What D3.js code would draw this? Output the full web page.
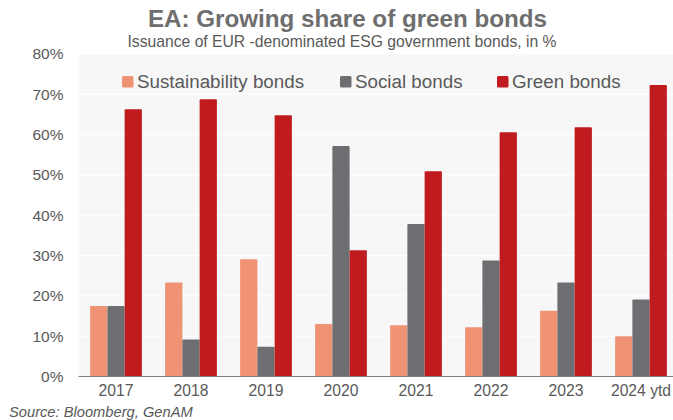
<!DOCTYPE html>
<html><head><meta charset="utf-8">
<script src="https://cdn.jsdelivr.net/npm/d3@7"></script>
<style>body{margin:0;background:#fff;}svg{display:block;font-family:"Liberation Sans",Arial,sans-serif;}</style>
</head><body><svg id="c" width="673" height="420"></svg>
<script>
const categories = ["2017","2018","2019","2020","2021","2022","2023","2024 ytd"];
const seriesNames = ["Sustainability bonds","Social bonds","Green bonds"];
const sustainability = [17.5,23.3,29.1,13.0,12.7,12.2,16.3,10.0];
const social = [17.5,9.2,7.4,57.2,37.8,28.8,23.3,19.1];
const green = [66.3,68.8,64.8,31.3,50.9,60.6,61.8,72.3];
const yTicks = [0,10,20,30,40,50,60,70,80];
const colors = ["#f09274","#6d6e71","#c01c1f"];

(function(){
const series = [sustainability, social, green];
const svg = d3.select("#c");
const pLeft = 78.5, pRight = 678.5, pTop = 54, pBottom = 376.5;
const textColor = "#595959";

svg.append("rect").attr("x", pLeft).attr("y", pTop).attr("width", 673-pLeft).attr("height", pBottom-pTop).attr("fill", "#f7f7f7");

const x = d3.scaleBand().domain(categories).range([pLeft, pRight]).paddingInner(0.31).paddingOuter(0.155);
const xs = d3.scaleBand().domain(d3.range(3)).range([0, x.bandwidth()]);
const y = d3.scaleLinear().domain([0, 80]).range([pBottom, pTop]);

svg.append("g").selectAll("line").data(yTicks.slice(1)).join("line")
  .attr("x1", pLeft).attr("x2", 673).attr("y1", d=>y(d)).attr("y2", d=>y(d))
  .attr("stroke", "#ffffff").attr("stroke-width", 1.2);

const yAxis = svg.append("g").attr("transform", `translate(${pLeft},0)`)
  .call(d3.axisLeft(y).tickValues(yTicks).tickFormat(d=>d+"%").tickSize(0).tickPadding(15));
yAxis.select(".domain").remove();
yAxis.selectAll("text").attr("fill", textColor).style("font-size", "15.5px");

const groups = svg.append("g").selectAll("g").data(categories).join("g")
  .attr("transform", d=>`translate(${x(d)},0)`);
groups.selectAll("rect").data((d,i)=>series.map((s,k)=>({k, v:s[i]}))).join("rect")
  .attr("x", d=>xs(d.k)).attr("width", xs.bandwidth())
  .attr("y", d=>y(d.v)).attr("height", d=>y(0)-y(d.v))
  .attr("fill", d=>colors[d.k]).attr("rx", 1);

const xAxis = svg.append("g").attr("transform", `translate(0,${pBottom})`)
  .call(d3.axisBottom(x).tickSize(0).tickPadding(8));
xAxis.select(".domain").attr("stroke", "#7f7f7f").attr("stroke-width", 1.2).attr("d", `M${pLeft},0H673`);
xAxis.selectAll("text").attr("fill", textColor).style("font-size", "15.7px");

const legendX = [122, 340, 497];
const lg = svg.append("g").selectAll("g").data(seriesNames).join("g")
  .attr("transform", (d,i)=>`translate(${legendX[i]},88)`);
lg.append("rect").attr("x", 0).attr("y", -12).attr("width", 11.5).attr("height", 11.5).attr("rx", 1.5).attr("fill", (d,i)=>colors[i]);
lg.append("text").attr("x", 15).attr("y", 0).text(d=>d).attr("fill", textColor).style("font-size", "18.8px");

svg.append("text").attr("x", 347.5).attr("y", 27).attr("text-anchor", "middle")
  .attr("fill", "#6e6e6e").style("font-size", "24.2px").style("font-weight", "bold")
  .text("EA: Growing share of green bonds");
svg.append("text").attr("x", 342).attr("y", 47).attr("text-anchor", "middle")
  .attr("fill", textColor).style("font-size", "15.7px")
  .text("Issuance of EUR -denominated ESG government bonds, in %");
svg.append("text").attr("x", 9).attr("y", 417)
  .attr("fill", textColor).style("font-size", "14.7px").style("font-style", "italic")
  .text("Source: Bloomberg, GenAM");
})();
</script></body></html>
